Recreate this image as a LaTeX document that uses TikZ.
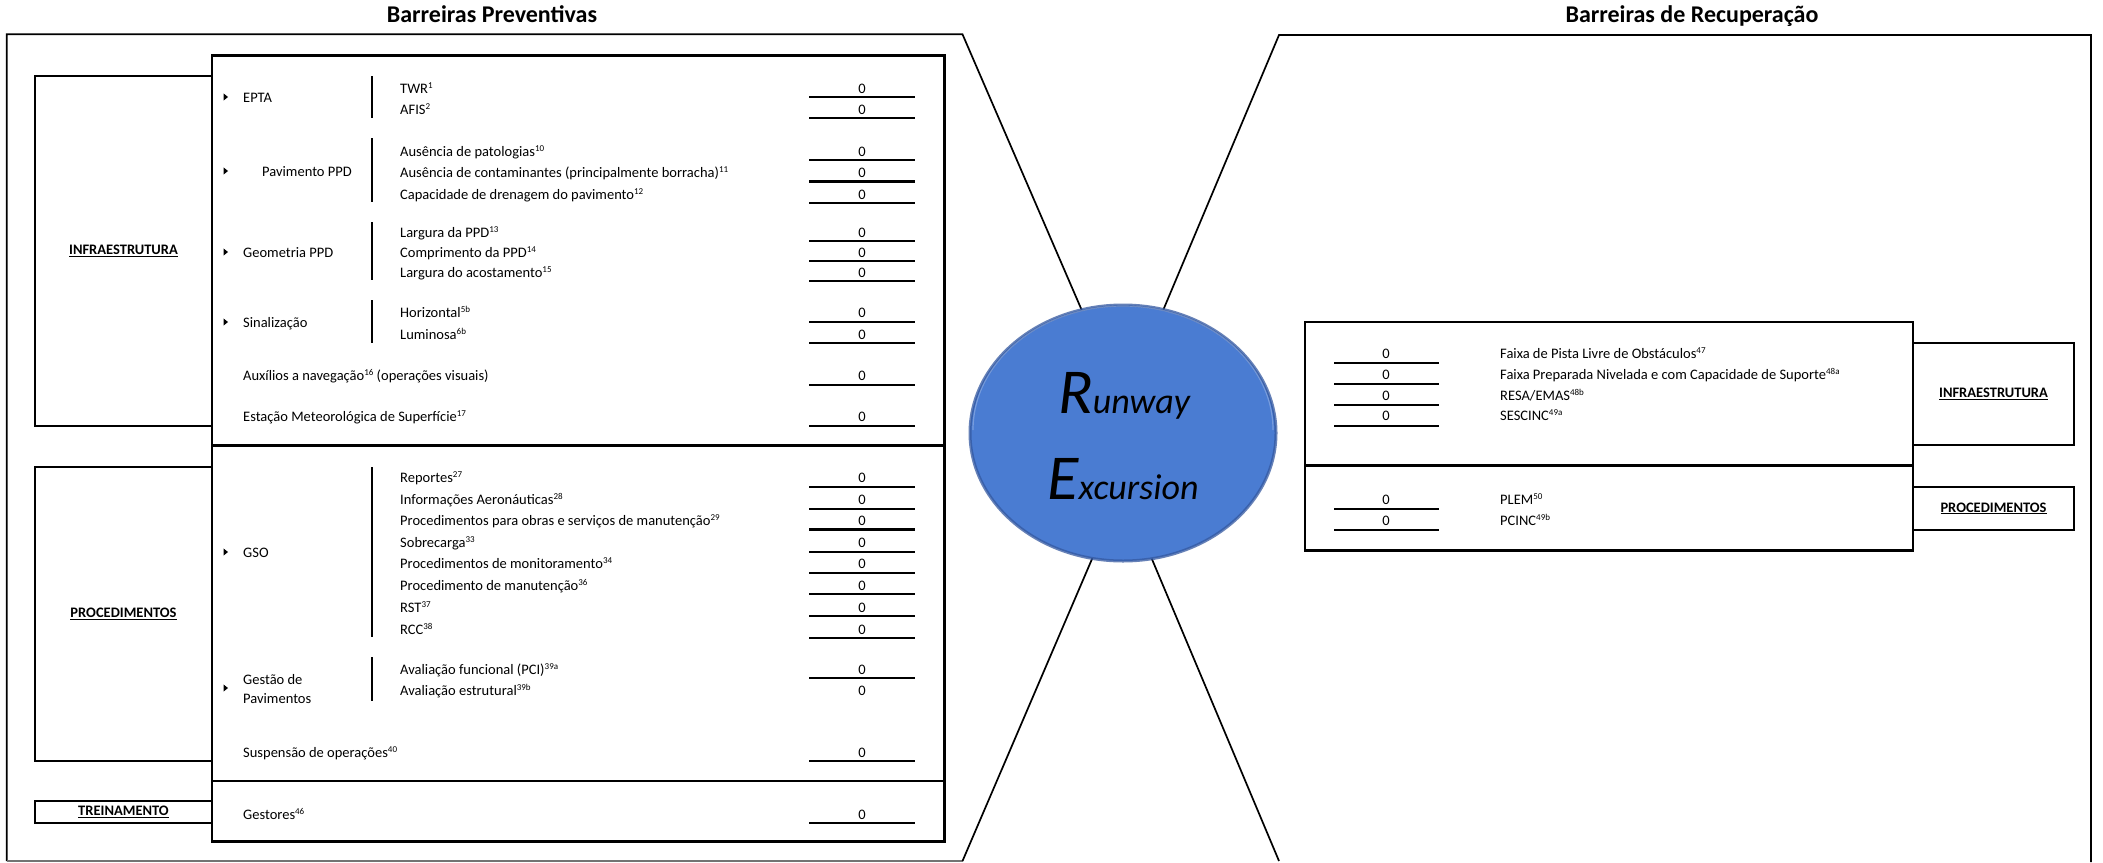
\documentclass[tikz,border=0pt]{standalone}
\usepackage{fontspec}
\setmainfont{Carlito}
\usetikzlibrary{shapes.geometric}
\definecolor{reblue}{RGB}{74,124,210}
\definecolor{reedge}{RGB}{52,88,160}
\newcommand\fn[1]{\raisebox{5pt}{\fontsize{9}{9}\selectfont #1}}
\begin{document}
\begin{tikzpicture}[x=1pt,y=-1pt,
  txt/.style={anchor=base west,inner sep=0pt,font=\fontsize{14.5}{17}\selectfont},
  val/.style={anchor=base,inner sep=0pt,font=\fontsize{14.5}{17}\selectfont},
  ttl/.style={anchor=base,inner sep=0pt,font=\fontsize{24}{28}\selectfont\bfseries},
  catbox/.style={draw,line width=2.4pt,inner sep=0pt,font=\fontsize{14.5}{17}\selectfont\bfseries},
  frame/.style={line width=2.6pt},
  outline/.style={line width=1.7pt},
  vline/.style={line width=2.4pt},
  bar/.style={line width=2.2pt},
  bullet/.style={fill=black},
]
\fill[white] (0,0) rectangle (2103,862);
\useasboundingbox (0,0) rectangle (2103,862);

% titles
\node[ttl] (tprev) at (492,23) {Barreiras Preventivas};
\node[ttl] (trec) at (1692,23) {Barreiras de Recuperação};

% outer outlines of both sides
\coordinate (ltl) at (6.7,34.3);
\coordinate (ltr) at (962.5,34.3);
\coordinate (lbl) at (6.7,861);
\coordinate (lbr) at (962.5,861);
\coordinate (lin1) at (1086,320);
\coordinate (lin2) at (1098,545);
\coordinate (rtl) at (1279,35);
\coordinate (rtr) at (2091,35);
\coordinate (rbr) at (2091,862);
\coordinate (rbl) at (1279,861);
\coordinate (rin1) at (1159,320);
\coordinate (rin2) at (1146,545);
\draw[outline] (lin1) -- (ltr) -- (ltl) -- (lbl);
\draw[line width=1.3pt,black!55] (lbl) -- (lbr);
\draw[outline] (lbr) -- (lin2);
\draw[outline] (rin1) -- (rtl) -- (rtr) -- (rbr);
\draw[outline] (rbl) -- (rin2);

% central event, with a soft bevelled rim
\node[ellipse,minimum width=306pt,minimum height=256pt,fill=reblue,draw=reedge,draw opacity=0.75,line width=3pt,inner sep=0pt] (re) at (1123,433) {};
\draw[white,opacity=0.25,line width=1.2pt] (re.center) ++(150,-3) arc[start angle=0,end angle=-180,x radius=150,y radius=124];
\node[anchor=base,inner sep=0pt,font=\itshape] (rw) at (1124,413) {{\fontsize{64}{64}\selectfont R}{\fontsize{36}{36}\selectfont unway}};
\node[anchor=base,inner sep=0pt,font=\itshape] (ex) at (1123,499) {{\fontsize{64}{64}\selectfont E}{\fontsize{36}{36}\selectfont xcursion}};

% preventive frame
\draw[frame] (212,55.7) rectangle (944.6,841.7);
\draw[frame] (212,445.7) -- (944.6,445.7);
\draw[frame] (212,781) -- (944.6,781);

% category boxes (left)
\node[catbox,minimum width=177pt,minimum height=349.7pt] (infL) at (123.5,250.85) {\underline{INFRAESTRUTURA}};
\node[catbox,minimum width=177pt,minimum height=294.3pt] (procL) at (123.5,613.85) {\underline{PROCEDIMENTOS}};
\node[catbox,minimum width=177pt,minimum height=22pt] (trnL) at (123.5,812) {\underline{TREINAMENTO}};

% group labels with bullets
\foreach \c in {97,171,252,322,552,688}
  \fill[bullet] (223.5,\c-3.6) -- (228,\c) -- (223.5,\c+3.6) -- cycle;
\node[txt] (gepta) at (243,102) {EPTA};
\node[txt] (gpav) at (262,176) {Pavimento PPD};
\node[txt] (ggeo) at (243,257) {Geometria PPD};
\node[txt] (gsin) at (243,327) {Sinalização};
\node[txt] (gaux) at (243,380.7) {Auxílios a navegação\fn{16} (operações visuais)};
\node[txt] (gest) at (243,421.7) {Estação Meteorológica de Superfície\fn{17}};
\node[txt] (ggso) at (243,557) {GSO};
\node[txt] (ggp1) at (243,684) {Gestão de};
\node[txt] (ggp2) at (243,703) {Pavimentos};
\node[txt] (gsus) at (243,757) {Suspensão de operações\fn{40}};
\node[txt] (gges) at (243,819) {Gestores\fn{46}};

% bracket bars
\foreach \a/\b in {76/118,138/202,222/280,300/343,467/637,657/701}
  \draw[bar] (372,\a) -- (372,\b);

% items with their values
\foreach \n/\L/\t in {
  a/97/{TWR\fn{1}},
  b/118/{AFIS\fn{2}},
  c/160/{Ausência de patologias\fn{10}},
  d/181.5/{Ausência de contaminantes (principalmente borracha)\fn{11}},
  e/203/{Capacidade de drenagem do pavimento\fn{12}},
  f/241/{Largura da PPD\fn{13}},
  g/261/{Comprimento da PPD\fn{14}},
  h/281/{Largura do acostamento\fn{15}},
  i/321.7/{Horizontal\fn{5b}},
  j/343/{Luminosa\fn{6b}},
  k/486.7/{Reportes\fn{27}},
  l/508.7/{Informações Aeronáuticas\fn{28}},
  m/529.3/{Procedimentos para obras e serviços de manutenção\fn{29}},
  n/551.7/{Sobrecarga\fn{33}},
  o/572.7/{Procedimentos de monitoramento\fn{34}},
  p/594/{Procedimento de manutenção\fn{36}},
  q/616/{RST\fn{37}},
  r/638/{RCC\fn{38}},
  s/678/{Avaliação funcional (PCI)\fn{39a}}}
{
  \node[txt] (it\n) at (400,\L-4) {\t};
  \node[val] (v\n) at (862,\L-4) {0};
  \draw[vline] (809,\L) -- (915,\L);
}
\node[txt] (itt) at (400,695.5) {Avaliação estrutural\fn{39b}};
\node[val] (vt) at (862,695.5) {0};
\foreach \n/\L in {aux/384.7,est/425.7,sus/761,ges/823}
{
  \node[val] (v\n) at (862,\L-4) {0};
  \draw[vline] (809,\L) -- (915,\L);
}

% recovery frame
\draw[frame] (1305,322) rectangle (1913,550.7);
\draw[frame] (1305,465.7) -- (1913,465.7);
\node[catbox,minimum width=161pt,minimum height=102pt] (infR) at (1993.5,394) {\underline{INFRAESTRUTURA}};
\node[catbox,minimum width=161pt,minimum height=43.3pt] (procR) at (1993.5,508.35) {\underline{PROCEDIMENTOS}};
\foreach \n/\L/\t in {
  a/363/{Faixa de Pista Livre de Obstáculos\fn{47}},
  b/384/{Faixa Preparada Nivelada e com Capacidade de Suporte\fn{48a}},
  c/405/{RESA/EMAS\fn{48b}},
  d/425.7/{SESCINC\fn{49a}},
  e/509/{PLEM\fn{50}},
  f/530/{PCINC\fn{49b}}}
{
  \node[txt] (rit\n) at (1500,\L-5) {\t};
  \node[val] (rv\n) at (1386,\L-5) {0};
  \draw[vline] (1334,\L) -- (1439,\L);
}
\end{tikzpicture}
\end{document}
